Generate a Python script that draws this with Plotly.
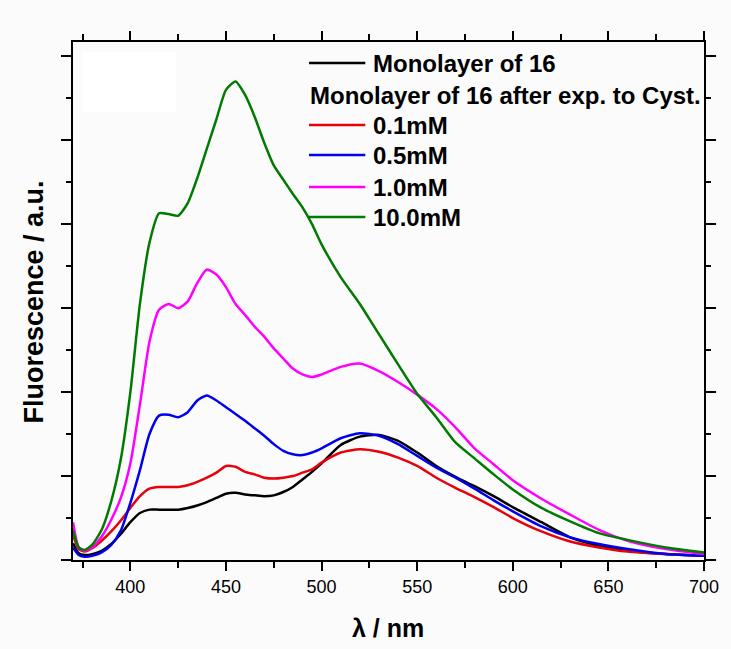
import plotly.graph_objects as go

wavelength = [370, 373, 376, 380, 385, 390, 395, 400, 405, 410, 415, 420, 425, 430, 435, 440,
              445, 450, 455, 460, 465, 470, 475, 480, 485, 490, 495, 500, 510, 520, 530, 540,
              550, 560, 570, 580, 590, 600, 615, 630, 645, 660, 680, 700]

mono16 = [0.20, 0.08, 0.06, 0.07, 0.11, 0.19, 0.31, 0.45, 0.56, 0.60, 0.60, 0.60, 0.60, 0.62, 0.65, 0.69,
          0.74, 0.79, 0.80, 0.78, 0.77, 0.76, 0.77, 0.81, 0.87, 0.96, 1.05, 1.15, 1.37, 1.47, 1.49, 1.42,
          1.28, 1.12, 0.99, 0.88, 0.76, 0.63, 0.45, 0.27, 0.17, 0.11, 0.07, 0.05]

c01 = [0.30, 0.13, 0.10, 0.14, 0.23, 0.34, 0.47, 0.62, 0.76, 0.85, 0.87, 0.87, 0.87, 0.89, 0.93, 0.98,
       1.04, 1.12, 1.11, 1.05, 1.02, 0.98, 0.97, 0.98, 1.00, 1.04, 1.08, 1.16, 1.28, 1.32, 1.29, 1.22,
       1.12, 0.98, 0.86, 0.75, 0.63, 0.50, 0.34, 0.22, 0.15, 0.10, 0.07, 0.05]

c05 = [0.15, 0.06, 0.04, 0.05, 0.09, 0.18, 0.35, 0.68, 1.07, 1.50, 1.72, 1.73, 1.70, 1.76, 1.90, 1.96,
       1.90, 1.82, 1.74, 1.66, 1.57, 1.48, 1.38, 1.30, 1.26, 1.25, 1.28, 1.33, 1.45, 1.51, 1.48, 1.38,
       1.24, 1.10, 0.98, 0.85, 0.71, 0.58, 0.40, 0.27, 0.19, 0.13, 0.07, 0.05]

c10 = [0.45, 0.15, 0.11, 0.15, 0.28, 0.48, 0.74, 1.15, 1.85, 2.60, 2.98, 3.05, 3.00, 3.08, 3.30, 3.46,
       3.40, 3.25, 3.05, 2.92, 2.78, 2.66, 2.52, 2.40, 2.28, 2.21, 2.18, 2.21, 2.30, 2.34, 2.25, 2.12,
       1.97, 1.80, 1.58, 1.33, 1.14, 0.95, 0.73, 0.54, 0.36, 0.23, 0.13, 0.07]

c100 = [0.35, 0.15, 0.12, 0.18, 0.36, 0.70, 1.20, 2.00, 3.05, 3.78, 4.13, 4.12, 4.10, 4.25, 4.55, 4.90,
        5.25, 5.60, 5.70, 5.54, 5.28, 4.97, 4.70, 4.53, 4.36, 4.20, 4.00, 3.76, 3.37, 3.05, 2.69, 2.33,
        1.98, 1.70, 1.40, 1.21, 1.02, 0.84, 0.62, 0.46, 0.32, 0.24, 0.15, 0.09]

series_names = ["Monolayer of 16", "0.1mM", "0.5mM", "1.0mM", "10.0mM"]
series_values = [mono16, c01, c05, c10, c100]
series_colors = ["#000000", "#e8000b", "#0000ee", "#ff00ff", "#007a00"]

legend_header = "Monolayer of 16 after exp. to Cyst."
x_ticks = [400, 450, 500, 550, 600, 650, 700]

W, H = 731, 649
L, R, T, B = 73, 19, 42, 89
PW, PH = W - L - R, H - T - B


def px(xp):
    return (xp - L) / PW


def py(yp):
    return (H - B - yp) / PH


FONT = "Arial, Liberation Sans, sans-serif"

fig = go.Figure()
for name, vals, col in zip(series_names, series_values, series_colors):
    fig.add_trace(go.Scatter(x=wavelength, y=vals, mode="lines", name=name,
                             line=dict(color=col, width=2.5, shape="spline", smoothing=0.6),
                             showlegend=False))

shapes = []
annotations = []
# white patch artifact at top-left of plot
shapes.append(dict(type="rect", xref="paper", yref="paper", x0=px(83), x1=px(177), y0=py(112), y1=py(52),
                   fillcolor="white", line=dict(width=0), layer="below"))

# legend rows
row_y = [63, 95, 125, 155, 187, 217]
rows = [(series_names[0], series_colors[0]), (legend_header, None)] + \
       [(n, c) for n, c in zip(series_names[1:], series_colors[1:])]
for (label, col), yy in zip(rows, row_y):
    if col is not None:
        shapes.append(dict(type="line", xref="paper", yref="paper", x0=px(312), x1=px(369),
                           y0=py(yy), y1=py(yy), line=dict(color=col, width=2.5)))
        xt = 375
    else:
        xt = 311
    annotations.append(dict(text="<b>%s</b>" % label, xref="paper", yref="paper", x=px(xt), y=py(yy),
                            xanchor="left", yanchor="middle", showarrow=False,
                            font=dict(family=FONT, size=24, color="black")))

annotations.append(dict(text="<b>Fluorescence / a.u.</b>", xref="paper", yref="paper", x=px(33), y=py(302),
                        textangle=-90, xanchor="center", yanchor="middle", showarrow=False,
                        font=dict(family=FONT, size=27, color="black")))
annotations.append(dict(text="<b>λ / nm</b>", xref="paper", yref="paper", x=px(392), y=py(628),
                        xanchor="center", yanchor="middle", showarrow=False,
                        font=dict(family=FONT, size=25, color="black")))

fig.update_layout(
    width=W, height=H,
    margin=dict(l=L, r=R, t=T, b=B),
    paper_bgcolor="#fbfbfb", plot_bgcolor="#fbfbfb",
    shapes=shapes, annotations=annotations,
    showlegend=False,
)
fig.update_xaxes(range=[370, 700], tickvals=x_ticks, ticktext=[str(v) for v in x_ticks],
                 showline=True, linecolor="black", linewidth=2, mirror="ticks",
                 ticks="outside", ticklen=9, tickwidth=2, tickcolor="black",
                 tickfont=dict(family=FONT, size=18, color="black"),
                 minor=dict(tickvals=[375, 425, 475, 525, 575, 625, 675], ticks="outside",
                            ticklen=6, tickwidth=2, tickcolor="black"),
                 showgrid=False, zeroline=False)
fig.update_yaxes(range=[0, 6.17], tick0=0, dtick=1, showticklabels=False,
                 showline=True, linecolor="black", linewidth=2, mirror="ticks",
                 ticks="outside", ticklen=10, tickwidth=2, tickcolor="black",
                 minor=dict(tick0=0.5, dtick=1, ticks="outside", ticklen=5, tickwidth=2, tickcolor="black"),
                 showgrid=False, zeroline=False)

fig.write_html("out.html")
